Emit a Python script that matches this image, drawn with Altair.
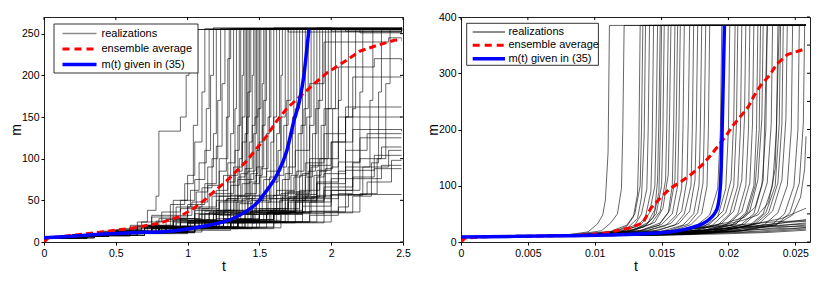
import altair as alt
import pandas as pd

# ---------------- axis ticks / labels ----------------
L_X_TICKS = [0, 0.5, 1, 1.5, 2, 2.5]
L_Y_TICKS = [0, 50, 100, 150, 200, 250]
R_X_TICKS = [0, 0.005, 0.01, 0.015, 0.02, 0.025]
R_Y_TICKS = [0, 50, 100, 150, 200, 250, 300, 350, 400]
LEGEND_LABELS = ["realizations", "ensemble average", "m(t) given in (35)"]

# ---------------- left panel: realizations  (flat t, m pairs) ----------------
L_RUNS = [
    [0,5, 0.2,8, 0.4,12, 0.55,16, 0.65,24, 0.72,38, 0.78,55, 0.8,133, 0.95,150, 0.99,200, 1.01,255, 1.6,257, 2.0,253, 2.49,256],
    [0,5, 0.2,8, 0.4,12, 0.6,18, 0.75,30, 0.88,45, 0.98,70, 1.04,140, 1.07,255, 1.7,252, 2.49,255],
    [0,5, 0.2,9, 0.4,13, 0.6,20, 0.75,32, 0.9,50, 1.0,80, 1.05,120, 1.1,180, 1.12,256, 2.49,256],
    [0,5, 0.2,8, 0.45,13, 0.65,19, 0.8,28, 0.92,42, 1.02,62, 1.08,95, 1.13,160, 1.15,255, 2.2,251, 2.49,255],
    [0,5, 0.25,9, 0.5,15, 0.68,24, 0.82,36, 0.95,50, 1.05,75, 1.12,110, 1.16,200, 1.18,257, 2.49,256],
    [0,5, 0.2,8, 0.4,11, 0.6,16, 0.78,25, 0.95,40, 1.06,60, 1.14,90, 1.18,130, 1.2,255, 1.9,257, 2.49,254],
    [0,5, 0.2,8, 0.45,12, 0.65,18, 0.85,27, 1.0,42, 1.1,65, 1.17,100, 1.21,170, 1.23,256, 2.49,256],
    [0,5, 0.25,8, 0.5,13, 0.7,20, 0.88,30, 1.0,45, 1.12,70, 1.2,115, 1.24,190, 1.26,255, 2.49,255],
    [0,5, 0.2,8, 0.45,12, 0.7,19, 0.9,28, 1.05,40, 1.15,58, 1.22,85, 1.27,150, 1.29,256, 2.49,257],
    [0,5, 0.25,9, 0.5,14, 0.7,20, 0.9,32, 1.03,48, 1.14,68, 1.22,100, 1.28,220, 1.3,255, 2.49,255],
    [0,5, 0.2,8, 0.45,12, 0.68,18, 0.9,26, 1.05,38, 1.17,55, 1.25,80, 1.3,130, 1.32,256, 2.49,254],
    [0,5, 0.25,8, 0.5,13, 0.72,19, 0.92,28, 1.08,42, 1.2,62, 1.28,95, 1.33,160, 1.34,255, 2.49,256],
    [0,5, 0.2,8, 0.45,12, 0.7,17, 0.9,24, 1.05,34, 1.2,50, 1.28,72, 1.33,110, 1.36,256, 2.1,253, 2.49,256],
    [0,5, 0.25,8, 0.5,12, 0.75,18, 0.95,26, 1.1,38, 1.22,55, 1.3,80, 1.35,140, 1.37,255, 2.49,257],
    [0,5, 0.2,7, 0.45,11, 0.7,16, 0.92,23, 1.08,33, 1.22,48, 1.3,68, 1.36,100, 1.38,200, 1.39,255, 2.49,255],
    [0,5, 0.25,8, 0.5,12, 0.75,17, 0.95,25, 1.12,37, 1.25,55, 1.33,85, 1.38,150, 1.4,256, 2.49,256],
    [0,5, 0.2,8, 0.5,13, 0.75,19, 0.95,28, 1.1,40, 1.22,58, 1.32,90, 1.38,120, 1.41,255, 2.49,254],
    [0,5, 0.25,8, 0.5,12, 0.78,18, 1.0,26, 1.15,36, 1.27,52, 1.35,78, 1.4,130, 1.42,256, 2.49,256],
    [0,5, 0.2,8, 0.45,12, 0.7,17, 0.95,24, 1.12,34, 1.26,50, 1.35,75, 1.41,150, 1.43,255, 2.49,255],
    [0,5, 0.25,8, 0.5,12, 0.75,17, 1.0,25, 1.15,35, 1.28,52, 1.37,82, 1.42,180, 1.44,256, 2.49,257],
    [0,5, 0.2,7, 0.45,11, 0.75,16, 1.0,23, 1.18,33, 1.3,48, 1.38,70, 1.43,120, 1.45,200, 1.46,255, 2.49,255],
    [0,5, 0.25,8, 0.5,12, 0.8,18, 1.02,26, 1.18,38, 1.3,56, 1.4,88, 1.45,140, 1.47,256, 2.49,256],
    [0,5, 0.2,8, 0.45,12, 0.75,17, 1.0,24, 1.2,35, 1.32,50, 1.41,75, 1.46,130, 1.48,255, 2.49,254],
    [0,5, 0.25,8, 0.5,13, 0.8,19, 1.05,27, 1.2,38, 1.33,55, 1.42,85, 1.47,150, 1.49,256, 2.49,256],
    [0,5, 0.2,8, 0.45,12, 0.75,17, 1.0,23, 1.2,33, 1.34,48, 1.43,72, 1.48,110, 1.5,255, 2.49,255],
    [0,5, 0.25,8, 0.5,12, 0.8,18, 1.05,26, 1.22,37, 1.35,55, 1.44,82, 1.49,160, 1.51,256, 2.49,257],
    [0,5, 0.2,7, 0.45,11, 0.75,16, 1.0,22, 1.22,32, 1.36,46, 1.45,70, 1.5,120, 1.52,190, 1.53,255, 2.49,255],
    [0,5, 0.25,8, 0.5,12, 0.8,17, 1.05,25, 1.25,36, 1.38,52, 1.47,80, 1.52,140, 1.54,256, 2.49,256],
    [0,5, 0.2,8, 0.45,12, 0.78,18, 1.05,26, 1.25,38, 1.4,58, 1.48,90, 1.53,170, 1.55,255, 2.49,254],
    [0,5, 0.25,8, 0.5,12, 0.8,17, 1.08,24, 1.28,35, 1.42,52, 1.5,78, 1.55,130, 1.57,256, 2.49,256],
    [0,5, 0.2,8, 0.45,12, 0.8,18, 1.08,26, 1.28,38, 1.42,56, 1.51,88, 1.56,150, 1.58,255, 2.49,255],
    [0,5, 0.25,8, 0.5,12, 0.8,17, 1.1,24, 1.3,34, 1.44,50, 1.53,75, 1.58,120, 1.6,256, 2.49,257],
    [0,5, 0.2,8, 0.45,12, 0.8,17, 1.1,25, 1.3,36, 1.45,55, 1.55,85, 1.6,150, 1.62,255, 2.49,255],
    [0,5, 0.25,8, 0.5,12, 0.82,17, 1.12,24, 1.32,34, 1.47,50, 1.57,78, 1.62,130, 1.64,256, 2.49,256],
    [0,5, 0.2,7, 0.45,11, 0.8,16, 1.12,23, 1.34,33, 1.48,48, 1.58,72, 1.63,110, 1.65,200, 1.66,255, 2.49,254],
    [0,5, 0.25,8, 0.5,12, 0.82,17, 1.15,25, 1.35,36, 1.5,54, 1.6,85, 1.65,150, 1.68,256, 2.49,256],
    [0,5, 0.2,8, 0.45,12, 0.8,17, 1.15,24, 1.37,35, 1.52,52, 1.62,80, 1.67,140, 1.7,255, 2.49,255],
    [0,5, 0.25,8, 0.5,12, 0.85,17, 1.18,25, 1.4,37, 1.55,56, 1.64,90, 1.69,170, 1.72,256, 2.49,257],
    [0,5, 0.2,7, 0.45,11, 0.8,16, 1.18,23, 1.4,33, 1.56,48, 1.66,75, 1.71,130, 1.74,255, 2.49,255],
    [0,5, 0.25,8, 0.5,12, 0.85,17, 1.2,24, 1.42,35, 1.58,52, 1.68,82, 1.73,150, 1.76,256, 2.49,256],
    [0,5, 0.2,8, 0.45,12, 0.85,17, 1.2,25, 1.44,37, 1.6,56, 1.7,90, 1.75,160, 1.78,255, 2.49,254],
    [0,5, 0.25,8, 0.5,12, 0.85,17, 1.22,24, 1.46,35, 1.62,52, 1.72,80, 1.77,130, 1.8,256, 2.49,256],
    [0,5, 0.2,7, 0.45,11, 0.85,16, 1.22,23, 1.47,33, 1.64,50, 1.74,78, 1.79,140, 1.82,255, 2.49,255],
    [0,5, 0.25,8, 0.5,12, 0.88,17, 1.25,25, 1.5,36, 1.66,54, 1.76,85, 1.81,160, 1.84,256, 2.49,257],
    [0,5, 0.2,8, 0.45,12, 0.88,17, 1.25,24, 1.5,35, 1.68,52, 1.78,80, 1.83,150, 1.86,255, 2.49,255],
    [0,5, 0.25,8, 0.5,12, 0.9,17, 1.28,24, 1.53,35, 1.7,52, 1.8,82, 1.85,140, 1.88,256, 2.49,256],
    [0,5, 0.2,7, 0.45,11, 0.9,16, 1.3,23, 1.55,34, 1.72,50, 1.82,78, 1.87,130, 1.9,255, 2.49,254],
    [0,5, 0.25,8, 0.5,12, 0.9,17, 1.3,24, 1.57,36, 1.74,54, 1.84,85, 1.89,160, 1.92,256, 2.49,256],
    [0,5, 0.2,8, 0.45,12, 0.9,17, 1.32,25, 1.58,37, 1.76,56, 1.86,90, 1.91,170, 1.94,255, 2.49,255],
    [0,5, 0.25,8, 0.5,12, 0.92,17, 1.35,24, 1.6,35, 1.78,52, 1.88,80, 1.93,140, 1.96,256, 2.49,257],
    [0,5, 0.2,7, 0.45,11, 0.92,16, 1.35,23, 1.62,34, 1.8,50, 1.9,78, 1.95,130, 1.98,255, 2.49,255],
    [0,5, 0.25,8, 0.5,12, 0.95,17, 1.38,24, 1.65,36, 1.82,54, 1.92,85, 1.97,160, 2.0,256, 2.49,256],
    [0,5, 0.2,8, 0.45,12, 0.95,17, 1.4,24, 1.68,35, 1.86,54, 1.96,88, 2.01,160, 2.03,255, 2.49,255],
    [0,5, 0.25,8, 0.5,12, 1.0,17, 1.42,24, 1.7,36, 1.9,56, 2.0,90, 2.05,170, 2.07,256, 2.49,256],
    [0,5, 0.2,7, 0.45,11, 1.0,16, 1.45,23, 1.75,34, 1.95,52, 2.05,85, 2.1,150, 2.12,255, 2.49,254],
    [0,5, 0.25,8, 0.5,12, 1.0,17, 1.48,24, 1.8,36, 2.0,56, 2.1,90, 2.15,160, 2.17,256, 2.49,256],
    [0,5, 0.2,8, 0.45,12, 1.0,17, 1.5,24, 1.85,37, 2.05,58, 2.15,95, 2.2,180, 2.22,255, 2.49,255],
    [0,5, 0.25,8, 0.5,12, 1.05,17, 1.55,24, 1.9,36, 2.1,56, 2.22,90, 2.27,170, 2.29,256, 2.49,257],
    [0,5, 0.2,7, 0.45,11, 1.05,16, 1.6,23, 1.95,35, 2.15,55, 2.28,95, 2.33,180, 2.35,255, 2.49,255],
    [0,5, 0.25,8, 0.5,12, 1.05,17, 1.65,24, 2.0,36, 2.2,58, 2.32,100, 2.38,190, 2.41,256, 2.49,256],
    [0,5, 0.3,7, 0.6,10, 1.0,14, 1.3,18, 1.6,24, 1.85,32, 2.05,42, 2.12,57, 2.49,57],
    [0,5, 0.2,8, 0.5,12, 0.9,17, 1.3,25, 1.55,36, 1.75,48, 1.95,62, 2.15,78, 2.3,88, 2.49,88],
    [0,5, 0.35,8, 0.7,12, 1.1,18, 1.4,26, 1.65,36, 1.85,48, 2.0,62, 2.2,76, 2.35,92, 2.49,92],
    [0,5, 0.3,8, 0.65,12, 1.0,17, 1.35,24, 1.6,33, 1.8,43, 2.0,57, 2.25,72, 2.42,98, 2.49,98],
    [0,5, 0.3,8, 0.6,13, 0.95,19, 1.25,28, 1.5,40, 1.7,54, 1.9,70, 2.1,86, 2.3,104, 2.49,104],
    [0,5, 0.3,8, 0.6,12, 1.0,17, 1.3,25, 1.55,35, 1.75,50, 1.95,66, 2.15,90, 2.4,110, 2.49,110],
    [0,5, 0.35,8, 0.7,12, 1.05,18, 1.35,27, 1.6,38, 1.8,54, 2.0,76, 2.2,100, 2.35,114, 2.49,114],
    [0,5, 0.3,8, 0.6,12, 1.0,18, 1.3,25, 1.5,34, 1.7,48, 1.9,72, 2.05,96, 2.2,125, 2.49,125],
    [0,5, 0.3,8, 0.65,12, 1.0,17, 1.35,25, 1.6,35, 1.8,52, 1.95,82, 2.1,110, 2.25,130, 2.49,130],
    [0,5, 0.3,8, 0.6,13, 0.95,19, 1.2,28, 1.45,40, 1.65,58, 1.85,92, 2.0,120, 2.15,135, 2.49,133],
    [0,5, 0.3,8, 0.6,12, 1.0,18, 1.3,26, 1.5,38, 1.7,60, 1.85,100, 1.98,130, 2.1,150, 2.49,150],
    [0,5, 0.3,8, 0.6,12, 1.0,17, 1.3,25, 1.55,36, 1.75,57, 1.9,86, 2.0,120, 2.1,162, 2.49,162],
    [0,5, 0.35,8, 0.7,12, 1.05,18, 1.35,27, 1.6,40, 1.78,62, 1.92,100, 2.05,150, 2.15,198, 2.49,198],
    [0,5, 0.3,8, 0.65,12, 1.0,18, 1.3,26, 1.5,38, 1.68,60, 1.82,95, 1.95,160, 2.05,210, 2.3,220, 2.49,218],
    [0,5, 0.3,8, 0.6,12, 0.95,18, 1.25,27, 1.45,38, 1.62,62, 1.75,110, 1.85,190, 1.95,240, 2.4,245, 2.49,245],
]

L_AVG_T = [0, 0.03, 0.1, 0.2, 0.44, 0.62, 0.81, 0.95, 1.04, 1.13, 1.2, 1.27, 1.34, 1.41, 1.48,
           1.55, 1.62, 1.69, 1.74, 1.85, 1.97, 2.08, 2.2, 2.32, 2.44, 2.49]
L_AVG_M = [0, 5, 6, 8, 12.9, 16.8, 22.8, 31, 40, 52, 63, 73, 85, 97, 112,
           127, 145, 160, 168, 185, 203, 215, 229, 236, 242, 243]

L_MT_T = [0, 0.2, 0.41, 0.6, 0.88, 1.0, 1.11, 1.2, 1.3, 1.41, 1.5, 1.53, 1.62, 1.69, 1.74, 1.78, 1.81, 1.83, 1.845]
L_MT_M = [5, 7, 9.5, 11, 13, 15.5, 19, 22, 27, 37, 50, 57, 80, 109, 145, 170, 200, 231, 255]

# ---------------- right panel: realizations (flat t, m pairs) ----------------
R_RUNS = [
    [0,9, 0.005,11, 0.008,13, 0.0095,18, 0.0102,32, 0.0106,48, 0.0108,75, 0.011,160, 0.0111,385, 0.0258,385],
    [0,9, 0.005,11, 0.0085,13, 0.0105,20, 0.0112,34, 0.0117,50, 0.012,95, 0.0121,200, 0.0122,385, 0.0258,385],
    [0,9, 0.006,11, 0.0095,14, 0.0115,19, 0.0124,28, 0.0129,45, 0.0132,85, 0.0133,170, 0.0134,385, 0.0258,385],
    [0,9, 0.005,11, 0.009,13, 0.0112,17, 0.0125,26, 0.0132,42, 0.0135,80, 0.0137,190, 0.0138,385, 0.0258,385],
    [0,9, 0.006,11, 0.01,14, 0.012,20, 0.013,30, 0.0135,50, 0.0139,95, 0.014,200, 0.0141,385, 0.0258,385],
    [0,9, 0.005,10, 0.0095,13, 0.0118,18, 0.0132,28, 0.0138,45, 0.0142,90, 0.0143,180, 0.0144,385, 0.0258,385],
    [0,9, 0.006,11, 0.01,14, 0.0122,20, 0.0135,32, 0.0141,52, 0.0145,100, 0.0146,210, 0.0147,385, 0.0258,385],
    [0,9, 0.005,11, 0.0095,13, 0.012,18, 0.0137,27, 0.0144,44, 0.0148,88, 0.0149,190, 0.015,385, 0.0258,385],
    [0,9, 0.006,10, 0.0105,14, 0.0125,19, 0.0138,30, 0.0146,50, 0.015,100, 0.0151,200, 0.0152,385, 0.0258,385],
    [0,9, 0.005,11, 0.01,13, 0.0128,20, 0.0142,32, 0.0149,55, 0.0153,110, 0.0154,220, 0.0155,385, 0.0258,385],
    [0,9, 0.006,11, 0.0105,14, 0.013,21, 0.0145,35, 0.0151,60, 0.0155,120, 0.0156,230, 0.0157,385, 0.0258,385],
    [0,9, 0.005,10, 0.0105,13, 0.0132,19, 0.0148,30, 0.0155,52, 0.0158,100, 0.0159,200, 0.016,385, 0.0258,385],
    [0,9, 0.006,11, 0.011,14, 0.0135,20, 0.015,31, 0.0158,50, 0.0162,100, 0.0163,210, 0.0164,385, 0.0258,385],
    [0,9, 0.005,11, 0.011,13, 0.0138,19, 0.0153,29, 0.0161,48, 0.0165,95, 0.0166,200, 0.0167,385, 0.0258,385],
    [0,9, 0.006,10, 0.0115,14, 0.014,21, 0.0157,33, 0.0165,55, 0.0169,110, 0.017,220, 0.0171,385, 0.0258,385],
    [0,9, 0.005,11, 0.0115,13, 0.0145,20, 0.016,30, 0.0167,50, 0.0172,100, 0.0173,200, 0.0174,385, 0.0258,385],
    [0,9, 0.006,11, 0.012,14, 0.0148,21, 0.0163,33, 0.0171,55, 0.0175,110, 0.0176,210, 0.0177,385, 0.0258,385],
    [0,9, 0.005,10, 0.012,13, 0.015,19, 0.0166,30, 0.0174,50, 0.0178,100, 0.0179,200, 0.018,385, 0.0258,385],
    [0,9, 0.006,11, 0.0125,14, 0.0155,20, 0.017,32, 0.0177,52, 0.0181,105, 0.0182,215, 0.0183,385, 0.0258,385],
    [0,9, 0.005,11, 0.0125,13, 0.0158,20, 0.0172,31, 0.018,50, 0.0184,100, 0.0185,200, 0.0186,385, 0.0258,385],
    [0,9, 0.006,10, 0.013,13, 0.0165,19, 0.0182,28, 0.0192,45, 0.0198,95, 0.02,200, 0.0201,385, 0.0258,385],
    [0,9, 0.005,11, 0.013,14, 0.0168,20, 0.0186,32, 0.0196,55, 0.0202,110, 0.0204,220, 0.0205,385, 0.0258,385],
    [0,9, 0.006,11, 0.0135,13, 0.017,19, 0.0188,30, 0.0198,52, 0.0204,100, 0.0206,210, 0.0207,385, 0.0258,385],
    [0,9, 0.005,10, 0.0135,13, 0.0172,19, 0.0192,30, 0.0201,50, 0.0207,100, 0.0209,200, 0.021,385, 0.0258,385],
    [0,9, 0.006,11, 0.014,14, 0.0175,20, 0.0195,33, 0.0204,55, 0.021,110, 0.0212,220, 0.0213,385, 0.0258,385],
    [0,9, 0.005,11, 0.014,13, 0.0178,19, 0.0198,30, 0.0207,50, 0.0213,100, 0.0215,200, 0.0216,385, 0.0258,385],
    [0,9, 0.006,10, 0.0145,13, 0.018,20, 0.02,32, 0.021,54, 0.0216,105, 0.0218,210, 0.0219,385, 0.0258,385],
    [0,9, 0.005,11, 0.0145,14, 0.0182,20, 0.0203,31, 0.0213,52, 0.0219,100, 0.0221,200, 0.0222,385, 0.0258,385],
    [0,9, 0.006,11, 0.015,14, 0.0185,21, 0.0206,33, 0.0216,55, 0.0222,110, 0.0225,220, 0.0226,385, 0.0258,385],
    [0,9, 0.005,10, 0.015,13, 0.0188,19, 0.0209,30, 0.0219,50, 0.0225,100, 0.0228,200, 0.0229,385, 0.0258,385],
    [0,9, 0.006,11, 0.0155,14, 0.019,20, 0.0212,32, 0.0222,53, 0.0229,105, 0.0232,210, 0.0233,385, 0.0258,385],
    [0,9, 0.005,11, 0.0155,13, 0.0193,19, 0.0216,30, 0.0226,50, 0.0233,100, 0.0236,200, 0.0237,385, 0.0258,385],
    [0,9, 0.006,10, 0.016,13, 0.0196,20, 0.022,32, 0.023,52, 0.0237,105, 0.024,210, 0.0241,385, 0.0258,385],
    [0,9, 0.005,11, 0.016,14, 0.02,21, 0.0223,33, 0.0233,55, 0.024,110, 0.0243,220, 0.0244,385, 0.0258,385],
    [0,9, 0.006,11, 0.0165,14, 0.0203,20, 0.0227,31, 0.0237,52, 0.0244,100, 0.0247,200, 0.0248,385, 0.0258,385],
    [0,9, 0.005,10, 0.0165,13, 0.0206,19, 0.0232,30, 0.0242,50, 0.0249,100, 0.0252,200, 0.0253,385, 0.0258,385],
    [0,9, 0.006,11, 0.017,14, 0.021,20, 0.0236,31, 0.0246,52, 0.0253,105, 0.0256,210, 0.0257,385, 0.0258,385],
    [0,9, 0.005,11, 0.009,14, 0.0112,19, 0.0124,30, 0.013,50, 0.0134,100, 0.0135,200, 0.0136,385, 0.0258,385],
    [0,9, 0.006,11, 0.0105,13, 0.0128,20, 0.014,35, 0.0145,58, 0.0147,110, 0.0148,220, 0.0149,385, 0.0258,385],
    [0,9, 0.005,11, 0.011,14, 0.0135,21, 0.0149,34, 0.0156,56, 0.016,110, 0.0161,220, 0.0162,385, 0.0258,385],
    [0,9, 0.006,11, 0.0125,13, 0.016,19, 0.0176,29, 0.0186,48, 0.0192,95, 0.0194,200, 0.0195,385, 0.0258,385],
    [0,9, 0.005,10, 0.0145,13, 0.0184,20, 0.0205,31, 0.0214,52, 0.022,100, 0.0223,200, 0.0224,385, 0.0258,385],
    [0,9, 0.006,11, 0.0158,14, 0.0195,20, 0.0218,31, 0.0228,52, 0.0235,100, 0.0238,210, 0.0239,385, 0.0258,385],
    [0,9, 0.006,11, 0.017,14, 0.021,20, 0.0235,30, 0.0248,48, 0.0254,80, 0.0257,130, 0.0258,188],
    [0,9, 0.006,10, 0.012,13, 0.016,17, 0.019,22, 0.022,28, 0.024,34, 0.0258,40],
    [0,9, 0.005,11, 0.0125,14, 0.0165,18, 0.02,24, 0.0225,30, 0.0245,35, 0.0258,37],
    [0,9, 0.006,11, 0.013,13, 0.017,17, 0.0205,22, 0.023,27, 0.025,32, 0.0258,34],
    [0,9, 0.005,10, 0.013,13, 0.0175,16, 0.021,20, 0.0235,25, 0.0258,30],
    [0,9, 0.006,10, 0.0135,12, 0.018,15, 0.022,19, 0.0245,23, 0.0258,26],
    [0,9, 0.005,10, 0.014,12, 0.0185,15, 0.0225,18, 0.0258,23],
    [0,9, 0.006,10, 0.0145,12, 0.019,14, 0.023,17, 0.0258,21],
    [0,9, 0.006,11, 0.0135,14, 0.018,20, 0.0215,30, 0.024,42, 0.0258,60],
    [0,9, 0.005,11, 0.011,14, 0.015,19, 0.018,25, 0.021,31, 0.0235,36, 0.0258,38],
    [0,9, 0.006,10, 0.0115,13, 0.0155,17, 0.0185,22, 0.0215,27, 0.024,30, 0.0258,32],
    [0,9, 0.005,11, 0.012,14, 0.016,18, 0.0195,23, 0.0225,27, 0.0258,28],
    [0,9, 0.006,10, 0.0125,13, 0.017,16, 0.0205,20, 0.024,24, 0.0258,25],
    [0,9, 0.005,10, 0.0115,13, 0.015,18, 0.0175,24, 0.0195,30, 0.021,38, 0.0222,48, 0.023,70, 0.0235,130, 0.0238,385, 0.0258,385],
    [0,9, 0.006,11, 0.012,14, 0.0155,19, 0.018,26, 0.0198,34, 0.0212,44, 0.022,62, 0.0226,110, 0.0229,385, 0.0258,385],
]

R_AVG_T = [0, 0.0003, 0.002, 0.006, 0.009, 0.0108, 0.0116, 0.0126, 0.0136, 0.0142, 0.015, 0.0157,
           0.0165, 0.0172, 0.018, 0.0186, 0.0192, 0.0198, 0.0203, 0.021, 0.0215, 0.0219, 0.0224,
           0.0231, 0.0236, 0.0244, 0.0253, 0.0257]
R_AVG_M = [0, 7, 9.5, 10.5, 12, 16, 20, 25, 34, 60, 81, 96,
           108, 120, 136, 152, 170, 188, 206, 226, 241, 259, 278,
           297, 316, 333, 340, 343]

R_MT_T = [0, 0.004, 0.008, 0.011, 0.014, 0.016, 0.0173, 0.0181, 0.0186, 0.019, 0.0192, 0.0194,
          0.01946, 0.0195, 0.01958, 0.0197]
R_MT_M = [9, 10, 11, 12.5, 15, 19, 26, 33, 41, 52, 63, 100, 134, 170, 253, 385]

FONT = "Liberation Sans"


def runs_frame(runs):
    rows = []
    for k, run in enumerate(runs):
        for i in range(0, len(run), 2):
            rows.append({"run": k, "i": i, "t": run[i], "m": run[i + 1]})
    return pd.DataFrame(rows)


def panel(runs, interp, avg_t, avg_m, mt_t, mt_m, xdom, ydom, xt, yt, W, H, leg):
    xs = alt.Scale(domain=xdom, nice=False, zero=False)
    ys = alt.Scale(domain=ydom, nice=False, zero=False)
    xax = alt.Axis(values=xt, format="~g", title="t", grid=False, domain=False,
                   tickSize=3, labelPadding=3, titlePadding=1, labelFlush=False)
    yax = alt.Axis(values=yt, format="d", title="m", grid=False, domain=False,
                   tickSize=3, labelPadding=2, titlePadding=leg["tpad"])

    real = alt.Chart(runs_frame(runs)).mark_line(
        color="black", strokeWidth=0.6, interpolate=interp, clip=True
    ).encode(
        x=alt.X("t:Q", scale=xs, axis=xax),
        y=alt.Y("m:Q", scale=ys, axis=yax),
        detail="run:N", order="i:Q",
    )
    avg = alt.Chart(pd.DataFrame({"t": avg_t, "m": avg_m})).mark_line(
        color="#ff0000", strokeWidth=3, strokeDash=[7, 4], clip=True
    ).encode(x="t:Q", y="m:Q")
    mt = alt.Chart(pd.DataFrame({"t": mt_t, "m": mt_m})).mark_line(
        color="#0000ff", strokeWidth=3.5, interpolate="monotone", clip=True
    ).encode(x="t:Q", y="m:Q")
    top_ticks = alt.Chart(pd.DataFrame({"t": xt})).mark_rule(
        color="black", strokeWidth=1
    ).encode(x="t:Q", y=alt.value(0), y2=alt.value(3))
    right_ticks = alt.Chart(pd.DataFrame({"m": yt})).mark_rule(
        color="black", strokeWidth=1
    ).encode(y="m:Q", x=alt.value(W - 3), x2=alt.value(W))

    one = pd.DataFrame({"k": [0]})
    bx1, by1, bx2, by2 = leg["box"]
    layers = [real, avg, mt, top_ticks, right_ticks]
    layers.append(alt.Chart(one).mark_rect(
        fill="white", stroke="black", strokeWidth=0.8
    ).encode(x=alt.value(bx1), x2=alt.value(bx2), y=alt.value(by1), y2=alt.value(by2)))
    sx1, sx2 = leg["sample"]
    styles = [
        dict(color=leg["real_color"], strokeWidth=leg["real_width"]),
        dict(color="#ff0000", strokeWidth=3, strokeDash=[7, 5]),
        dict(color="#0000ff", strokeWidth=3.5),
    ]
    for lab, yy, st in zip(LEGEND_LABELS, leg["rows"], styles):
        layers.append(alt.Chart(one).mark_rule(**st).encode(
            x=alt.value(sx1), x2=alt.value(sx2), y=alt.value(yy)))
        layers.append(alt.Chart(one).mark_text(
            align="left", baseline="middle", font=FONT, fontSize=11, color="black"
        ).encode(x=alt.value(leg["text_x"]), y=alt.value(yy), text=alt.value(lab)))
    return alt.layer(*layers).properties(width=W, height=H)


left = panel(
    L_RUNS, "step-after", L_AVG_T, L_AVG_M, L_MT_T, L_MT_M,
    [0, 2.5], [0, 270], L_X_TICKS, L_Y_TICKS, 359, 225,
    dict(box=(10, 7, 154, 56), rows=(16.5, 32, 47.5), sample=(18.5, 52.5), text_x=57.5,
         real_color="#8a8a8a", real_width=1.6, tpad=-2),
)
right = panel(
    R_RUNS, "linear", R_AVG_T, R_AVG_M, R_MT_T, R_MT_M,
    [0, 0.0261], [0, 400], R_X_TICKS, R_Y_TICKS, 349, 225,
    dict(box=(5.7, 6.3, 137.4, 48.3), rows=(15, 28.3, 41.7), sample=(11.7, 44), text_x=47.4,
         real_color="black", real_width=0.9, tpad=-2),
)

chart = alt.hconcat(left, right, spacing=14).properties(
    padding={"left": 0, "top": 3, "right": 4, "bottom": 4}
).configure_view(
    stroke="#222222", strokeWidth=1
).configure_axis(
    labelFont=FONT, labelFontSize=10.5, labelColor="black",
    titleFont=FONT, titleFontSize=14, titleFontWeight="normal", titleColor="black",
    tickColor="black", tickWidth=1,
)

chart.save("out.html", embed_options={"renderer": "svg", "actions": False})
